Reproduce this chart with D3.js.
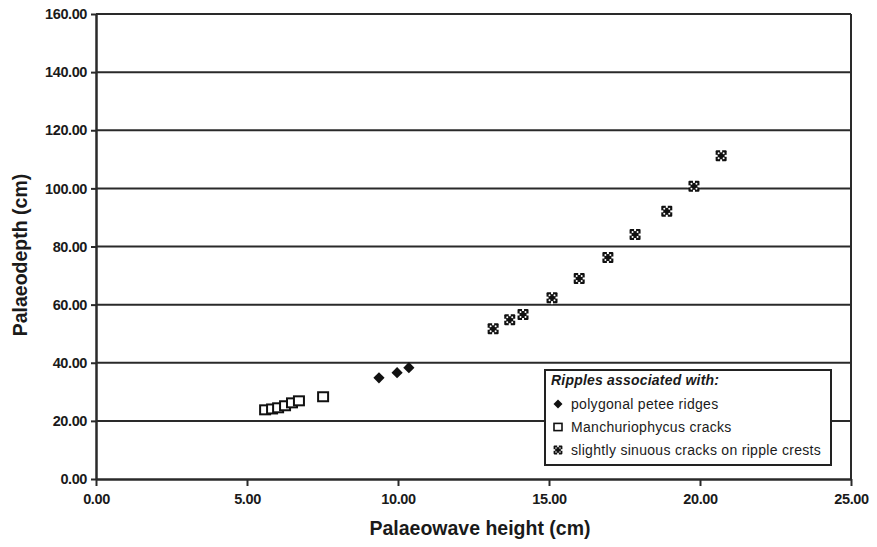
<!DOCTYPE html>
<html>
<head>
<meta charset="utf-8">
<script src="https://cdn.jsdelivr.net/npm/d3@7"></script>
<style>
  body { margin: 0; background: #fff; }
  text { font-family: "Liberation Sans", Arial, sans-serif; fill: #1a1a1a; }
</style>
</head>
<body>
<div id="chart"></div>
<script>
// polygonal petee ridges
var peteeX = [9.37, 9.97, 10.36];
var peteeY = [34.8, 36.6, 38.3];
// Manchuriophycus cracks
var manchX = [5.6, 5.83, 6.03, 6.26, 6.49, 6.72, 7.52];
var manchY = [23.8, 24.1, 24.5, 25.2, 26.2, 26.9, 28.3];
// slightly sinuous cracks on ripple crests
var sinuX = [13.15, 13.7, 14.14, 15.1, 16.0, 16.95, 17.85, 18.9, 19.8, 20.7];
var sinuY = [51.7, 54.8, 56.6, 62.4, 69.0, 76.2, 84.1, 92.1, 100.7, 111.2];

var xTicks = [0, 5, 10, 15, 20, 25];
var yTicks = [0, 20, 40, 60, 80, 100, 120, 140, 160];
var legendTitle = "Ripples associated with:";
var legendLabels = ["polygonal petee ridges", "Manchuriophycus cracks", "slightly sinuous cracks on ripple crests"];

var width = 877, height = 547;
var margin = {left: 96, right: 26, top: 14, bottom: 68};

var svg = d3.select("#chart").append("svg")
  .attr("width", width)
  .attr("height", height);

var x = d3.scaleLinear().domain([0, 25]).range([margin.left, width - margin.right]);
var y = d3.scaleLinear().domain([0, 160]).range([height - margin.bottom, margin.top]);

// gridlines
svg.append("g").selectAll("line")
  .data(yTicks.filter(function(d) { return d > 0; }))
  .enter().append("line")
    .attr("x1", x(0)).attr("x2", x(25))
    .attr("y1", function(d) { return y(d); })
    .attr("y2", function(d) { return y(d); })
    .attr("stroke", "#2a2a2a")
    .attr("stroke-width", 2);

// right border
svg.append("line")
  .attr("x1", x(25)).attr("x2", x(25))
  .attr("y1", y(160)).attr("y2", y(0))
  .attr("stroke", "#2a2a2a").attr("stroke-width", 2);

// axes
var fmt = d3.format(".2f");
var xAxis = svg.append("g")
  .attr("transform", "translate(0," + y(0) + ")")
  .call(d3.axisBottom(x).tickValues(xTicks).tickFormat(fmt).tickSize(7).tickSizeOuter(0));
var yAxis = svg.append("g")
  .attr("transform", "translate(" + x(0) + ",0)")
  .call(d3.axisLeft(y).tickValues(yTicks).tickFormat(fmt).tickSize(5).tickSizeOuter(0));

[xAxis, yAxis].forEach(function(a) {
  a.select(".domain").attr("stroke", "#2a2a2a").attr("stroke-width", 2.5);
  a.selectAll(".tick line").attr("stroke", "#2a2a2a").attr("stroke-width", 2);
  a.selectAll(".tick text")
    .style("font-size", "14.5px")
    .style("font-weight", "bold")
    .style("letter-spacing", "-0.4px")
    .attr("fill", "#222");
});
xAxis.selectAll(".tick text").attr("dy", "1.05em");
yAxis.selectAll(".tick text").attr("x", -9);

// axis titles
svg.append("text")
  .attr("x", 480).attr("y", 535)
  .attr("text-anchor", "middle")
  .style("font-size", "19.5px").style("font-weight", "bold")
  .text("Palaeowave height (cm)");
svg.append("text")
  .attr("transform", "translate(27,255) rotate(-90)")
  .attr("text-anchor", "middle")
  .style("font-size", "19.5px").style("font-weight", "bold")
  .text("Palaeodepth (cm)");

// marker drawers
function drawDiamond(g) {
  g.append("path")
    .attr("d", d3.symbol().type(d3.symbolDiamond2).size(80))
    .attr("fill", "#111");
}
function drawSquare(g) {
  g.append("rect")
    .attr("x", -5).attr("y", -4.5).attr("width", 10).attr("height", 9)
    .attr("fill", "#fff").attr("stroke", "#111").attr("stroke-width", 2);
}
function drawCross(g) {
  g.append("rect").attr("x", -5.5).attr("y", -5.5).attr("width", 11).attr("height", 11)
    .attr("fill", "#111").attr("rx", 1);
  g.append("rect").attr("x", -1).attr("y", -6.5).attr("width", 2).attr("height", 3).attr("fill", "#fff");
  g.append("rect").attr("x", -1).attr("y", 3.5).attr("width", 2).attr("height", 3).attr("fill", "#fff");
  g.append("rect").attr("x", -6.5).attr("y", -1).attr("width", 3).attr("height", 2).attr("fill", "#fff");
  g.append("rect").attr("x", 3.5).attr("y", -1).attr("width", 3).attr("height", 2).attr("fill", "#fff");
  [[-2.5, -2.5], [2.5, -2.5], [-2.5, 2.5], [2.5, 2.5]].forEach(function(p) {
    g.append("circle").attr("cx", p[0]).attr("cy", p[1]).attr("r", 1).attr("fill", "#fff");
  });
}

function plotSeries(xs, ys, drawer) {
  var pts = xs.map(function(v, i) { return [v, ys[i]]; });
  svg.append("g").selectAll("g")
    .data(pts)
    .enter().append("g")
      .attr("transform", function(d) { return "translate(" + x(d[0]) + "," + y(d[1]) + ")"; })
      .each(function() { drawer(d3.select(this)); });
}
plotSeries(manchX, manchY, drawSquare);
plotSeries(peteeX, peteeY, drawDiamond);
plotSeries(sinuX, sinuY, drawCross);

// legend
var lg = svg.append("g").attr("transform", "translate(545,370)");
lg.append("rect")
  .attr("width", 286).attr("height", 95)
  .attr("fill", "#fff").attr("stroke", "#222").attr("stroke-width", 2);
lg.append("text")
  .attr("x", 6).attr("y", 15)
  .style("font-size", "14px").style("font-weight", "bold").style("font-style", "italic")
  .style("letter-spacing", "0.2px")
  .text(legendTitle);
var drawers = [drawDiamond, drawSquare, drawCross];
legendLabels.forEach(function(lbl, i) {
  var row = lg.append("g").attr("transform", "translate(13," + (34 + i * 23) + ")");
  drawers[i](row.append("g").attr("transform", "scale(0.8)"));
  row.append("text")
    .attr("x", 13).attr("y", 5)
    .style("font-size", "14px")
    .style("letter-spacing", "0.3px")
    .text(lbl);
});
</script>
</body>
</html>
